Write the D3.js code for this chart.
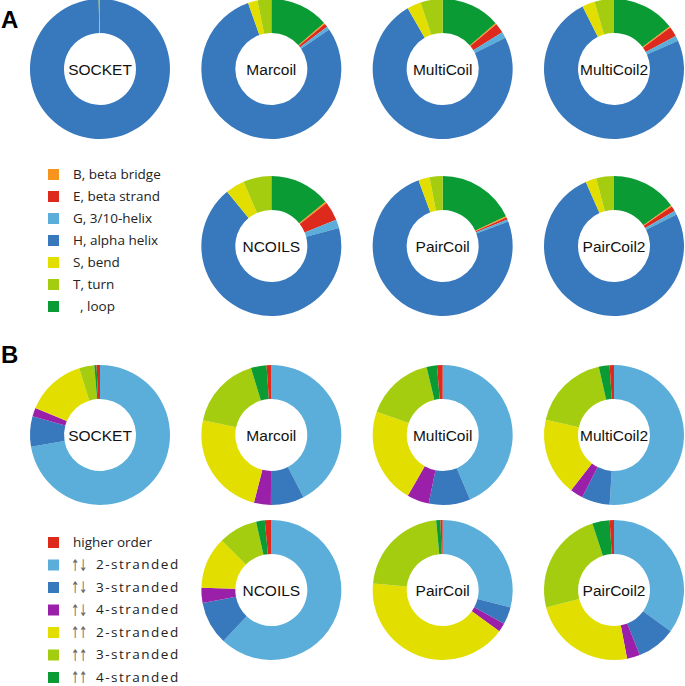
<!DOCTYPE html>
<html><head><meta charset="utf-8">
<script src="https://cdn.jsdelivr.net/npm/d3@7"></script>
<style>html,body{margin:0;padding:0;background:#fff;}svg{display:block;}</style>
</head><body>
<svg id="chart" width="685" height="686"></svg>
<script>
// ---------- DATA ----------
const tools = ["SOCKET","Marcoil","MultiCoil","MultiCoil2","NCOILS","PairCoil","PairCoil2"];

// Panel A: secondary structure, slice order clockwise from 12 o'clock
const ssKeys   = ["loop","B","E","G","H","S","T"];
const ssLegend = ["B, beta bridge","E, beta strand","G, 3/10-helix","H, alpha helix","S, bend","T, turn","  , loop"];
const ssLegendKeys = ["B","E","G","H","S","T","loop"];
const ssSOCKET     = [0,   0,   0,   0,   99.7, 0,   0.3];
const ssMarcoil    = [13.6,0.3, 0.8, 0.8, 79.3, 2.2, 3.2];
const ssMultiCoil  = [13.6,0.3, 2.3, 1.4, 73.9, 3.2, 5.1];
const ssMultiCoil2 = [14.6,0.3, 2.3, 1.2, 74.2, 2.9, 4.5];
const ssNCOILS     = [14.1,0.4, 4.4, 2.0, 68.3, 4.4, 6.5];
const ssPairCoil   = [18.0,0.3, 0.5, 0.5, 75.1, 2.6, 3.0];
const ssPairCoil2  = [15.2,0.3, 1.2, 0.9, 75.9, 2.5, 4.1];

// Panel B: oligomeric state, slice order clockwise from 12 o'clock
const olKeys   = ["ap2","ap3","ap4","p2","p3","p4","higher"];
const olLegendKeys = ["higher","ap2","ap3","ap4","p2","p3","p4"];
const olLegendArrows = ["","↑↓","↑↓","↑↓","↑↑","↑↑","↑↑"];
const olLegendText   = ["higher order","2-stranded","3-stranded","4-stranded","2-stranded","3-stranded","4-stranded"];
const olSOCKET     = [72.3, 7.0, 2.0, 13.9, 3.5, 0.5, 0.8];
const olMarcoil    = [42.4, 7.7, 3.9, 24.4,16.9, 3.6, 1.1];
const olMultiCoil  = [43.6, 9.6, 5.1, 22.1,15.9, 2.4, 1.3];
const olMultiCoil2 = [51.0, 6.5, 3.0, 18.0,18.0, 2.5, 1.0];
const olNCOILS     = [62.0,10.0, 3.5, 12.0, 9.0, 2.0, 1.5];
const olPairCoil   = [29.0, 4.0, 2.0, 41.5,22.0, 1.0, 0.5];
const olPairCoil2  = [35.0, 9.0, 3.0, 24.0,24.0, 4.0, 1.0];

// ---------- STYLE ----------
const colors = {
  B:"#f7941d", E:"#de2a1c", G:"#5aaed9", H:"#3878bc", S:"#e2de00", T:"#a4cd10", loop:"#0b9b35",
  higher:"#de2a1c", ap2:"#5aaed9", ap3:"#3878bc", ap4:"#9b20a9", p2:"#e2de00", p3:"#a4cd10", p4:"#0b9b35"
};

const ssData = [ssSOCKET, ssMarcoil, ssMultiCoil, ssMultiCoil2, ssNCOILS, ssPairCoil, ssPairCoil2];
const olData = [olSOCKET, olMarcoil, olMultiCoil, olMultiCoil2, olNCOILS, olPairCoil, olPairCoil2];

const svg = d3.select("#chart");
const colX = d3.scalePoint().domain([0,1,2,3]).range([100, 614]);
const grid = [[0,0],[1,0],[2,0],[3,0],[1,1],[2,1],[3,1]];
const rowYA = [69, 246], rowYB = [435, 590];

const pie = d3.pie().sort(null).value(d => d.v);
const arc = d3.arc().innerRadius(36).outerRadius(70);

function drawDonut(cx, cy, keys, values, label) {
  const g = svg.append("g").attr("transform", `translate(${cx},${cy})`);
  const data = keys.map((k,i) => ({k, v: values[i]}));
  g.selectAll("path").data(pie(data)).enter().append("path")
    .attr("d", arc).attr("fill", d => colors[d.data.k]);
  g.append("text").attr("text-anchor","middle").attr("dy","0.36em")
    .style("font-family","'Liberation Sans', Arial, sans-serif").style("font-size","15.5px")
    .attr("fill","#111").text(label);
}

tools.forEach((t,i) => {
  const [c,r] = grid[i];
  drawDonut(colX(c), rowYA[r], ssKeys, ssData[i], t);
  drawDonut(colX(c), rowYB[r], olKeys, olData[i], t);
});

// Panel letters
svg.append("text").attr("x",1).attr("y",28).text("A")
  .style("font-family","'Liberation Sans', Arial, sans-serif").style("font-size","24px").style("font-weight","bold");
svg.append("text").attr("x",1).attr("y",363).text("B")
  .style("font-family","'Liberation Sans', Arial, sans-serif").style("font-size","24px").style("font-weight","bold");

// Legend A
const legA = svg.append("g");
const legAy = d3.scalePoint().domain(d3.range(7)).range([174, 306]);
ssLegendKeys.forEach((k,i) => {
  legA.append("rect").attr("x",48).attr("y",legAy(i)-5).attr("width",11).attr("height",11).attr("fill",colors[k]);
  legA.append("text").attr("x",73).attr("y",legAy(i)).attr("dy","0.36em")
    .style("font-family","'Open Sans', sans-serif").style("font-size","13.5px").attr("fill","#222")
    .attr("xml:space","preserve").style("white-space","pre").text(ssLegend[i]);
});

// Legend B
const legB = svg.append("g");
const legBy = d3.scalePoint().domain(d3.range(7)).range([542, 677]);
olLegendKeys.forEach((k,i) => {
  legB.append("rect").attr("x",48).attr("y",legBy(i)-5).attr("width",11).attr("height",11).attr("fill",colors[k]);
  if (olLegendArrows[i]) {
    Array.from(olLegendArrows[i]).forEach((ch, j) => {
      legB.append("text")
        .attr("transform", `translate(${71 + j*8},${legBy(i)}) scale(0.62,1)`)
        .attr("dy","0.38em")
        .style("font-family","'DejaVu Sans', sans-serif").style("font-size","16px")
        .attr("fill","#666").text(ch);
    });
    legB.append("text").attr("x",96).attr("y",legBy(i)).attr("dy","0.36em")
      .style("font-family","'Open Sans', sans-serif").style("font-size","13.5px")
      .style("letter-spacing","1.5px").attr("fill","#222").text(olLegendText[i]);
  } else {
    legB.append("text").attr("x",73).attr("y",legBy(i)).attr("dy","0.36em")
      .style("font-family","'Open Sans', sans-serif").style("font-size","13.5px")
      .attr("fill","#222").text(olLegendText[i]);
  }
});
</script>
</body></html>
